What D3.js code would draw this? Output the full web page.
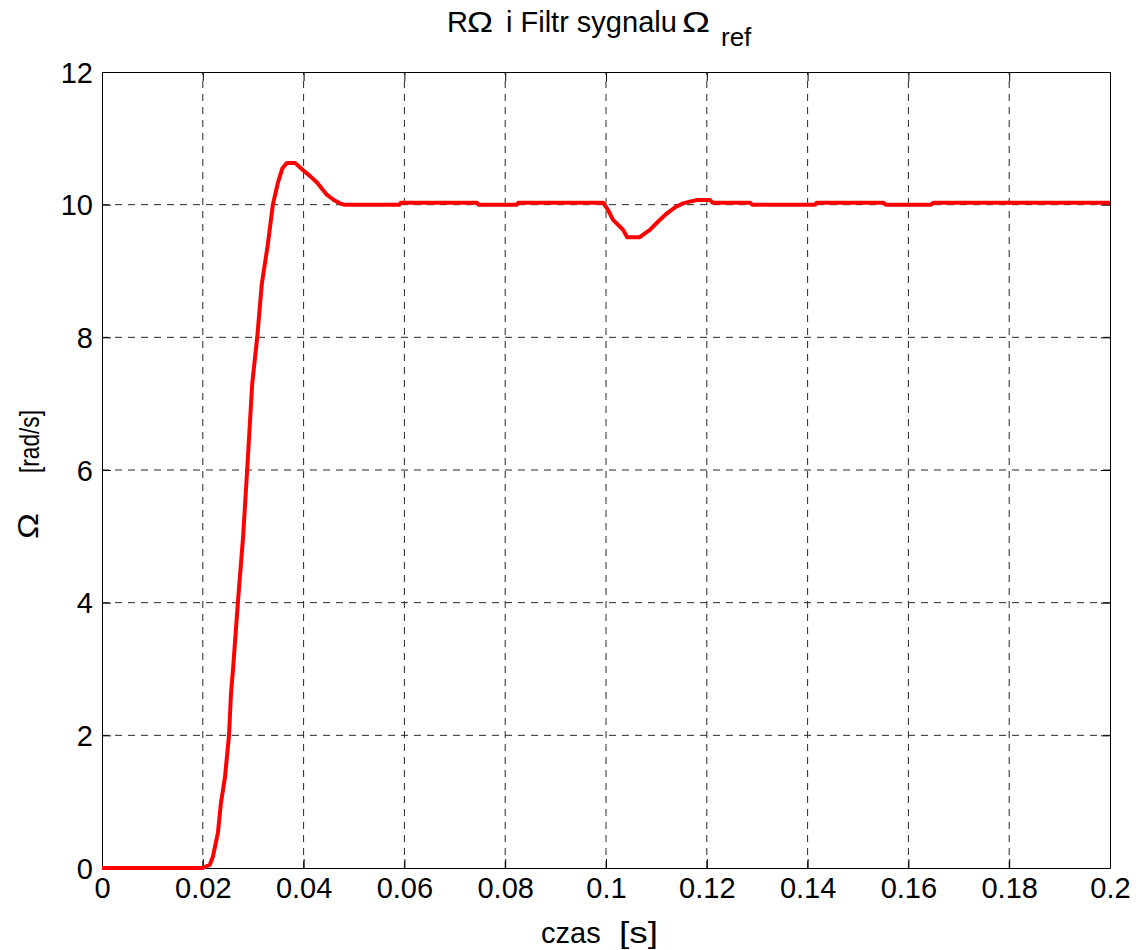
<!DOCTYPE html>
<html>
<head>
<meta charset="utf-8">
<script src="https://cdn.jsdelivr.net/npm/d3@7/dist/d3.min.js"></script>
<style>
  html, body { margin: 0; padding: 0; background: #fff; }
  svg { display: block; }
  text { font-family: "Liberation Sans", Arial, Helvetica, sans-serif; fill: #000; }
</style>
</head>
<body>
<svg id="chart" width="1136" height="950"></svg>
<script>
// Filtered speed reference response (time in s, angular speed in rad/s)
const timeS = [0, 0.02, 0.0214, 0.0220, 0.0230, 0.0236, 0.0244, 0.0252, 0.0256, 0.0260,
  0.0270, 0.0280, 0.0288, 0.0298, 0.0308, 0.0317, 0.0329, 0.0339, 0.0349, 0.0358,
  0.0367, 0.0383, 0.0399, 0.0413, 0.0427, 0.0446, 0.0460, 0.0472, 0.0480, 0.0590,
  0.0593, 0.0744, 0.0747, 0.0823, 0.0826, 0.0994, 0.1004, 0.1014, 0.1034, 0.1042,
  0.1067, 0.1087, 0.1104, 0.1121, 0.1137, 0.1153, 0.1168, 0.1181, 0.1206, 0.1212,
  0.1286, 0.1290, 0.1415, 0.1418, 0.1550, 0.1555, 0.1645, 0.1650, 0.2];
const omega = [0, 0, 0.05, 0.17, 0.53, 0.98, 1.37, 2.0, 2.64, 3.0,
  4.04, 5.0, 6.0, 7.3, 8.0, 8.8, 9.4, 10.0, 10.33, 10.55,
  10.63, 10.63, 10.52, 10.43, 10.33, 10.15, 10.07, 10.02, 10.0, 10.0,
  10.03, 10.03, 10.0, 10.0, 10.03, 10.03, 9.92, 9.77, 9.62, 9.51,
  9.51, 9.62, 9.75, 9.87, 9.96, 10.02, 10.05, 10.07, 10.07, 10.03,
  10.03, 10.0, 10.0, 10.03, 10.03, 10.0, 10.0, 10.03, 10.03];

const xTicks = [0, 0.02, 0.04, 0.06, 0.08, 0.1, 0.12, 0.14, 0.16, 0.18, 0.2];
const yTicks = [0, 2, 4, 6, 8, 10, 12];

const margin = { left: 102, top: 72, right: 26, bottom: 82 };
const W = 1136, H = 950;
const iw = W - margin.left - margin.right;
const ih = H - margin.top - margin.bottom;
const FS = 29;

const svg = d3.select("#chart");
const g = svg.append("g").attr("transform", `translate(${margin.left},${margin.top})`);

const x = d3.scaleLinear().domain([0, 0.2]).range([0, iw]);
const y = d3.scaleLinear().domain([0, 12]).range([ih, 0]);

// dashed grid
const gridStyle = sel => sel.attr("stroke", "#262626").attr("stroke-width", 1)
  .attr("stroke-dasharray", "7,6");
g.append("g").selectAll("line").data(xTicks.slice(1, -1)).join("line")
  .attr("x1", d => x(d)).attr("x2", d => x(d)).attr("y1", ih).attr("y2", 0)
  .call(gridStyle);
g.append("g").selectAll("line").data(yTicks.slice(1, -1)).join("line")
  .attr("y1", d => y(d)).attr("y2", d => y(d)).attr("x1", 0).attr("x2", iw)
  .call(gridStyle);

// axes box with inward ticks
const fmt = d => String(+d.toFixed(2));
const axB = g.append("g").attr("transform", `translate(0,${ih})`)
  .call(d3.axisBottom(x).tickValues(xTicks).tickFormat(fmt).tickSizeInner(-9).tickSizeOuter(0).tickPadding(9));
const axT = g.append("g")
  .call(d3.axisTop(x).tickValues(xTicks).tickFormat("").tickSizeInner(-9).tickSizeOuter(0));
const axL = g.append("g")
  .call(d3.axisLeft(y).tickValues(yTicks).tickFormat(d3.format("d")).tickSizeInner(-9).tickSizeOuter(0).tickPadding(9));
const axR = g.append("g").attr("transform", `translate(${iw},0)`)
  .call(d3.axisRight(y).tickValues(yTicks).tickFormat("").tickSizeInner(-9).tickSizeOuter(0));
[axB, axT, axL, axR].forEach(a => {
  a.selectAll(".domain").attr("stroke", "#000").attr("stroke-width", 1);
  a.selectAll(".tick line").attr("stroke", "#000").attr("stroke-width", 1);
  a.selectAll("text").attr("font-size", FS).attr("fill", "#000")
    .style("font-family", "'Liberation Sans', Arial, sans-serif");
});
axB.selectAll("text").attr("dy", "0.71em");
axL.selectAll("text").attr("dy", "0.35em");

// response curve
const line = d3.line().x((d, i) => x(timeS[i])).y(d => y(d));
g.append("path").datum(omega)
  .attr("d", line)
  .attr("fill", "none")
  .attr("stroke", "#ff0000")
  .attr("stroke-width", 4)
  .attr("stroke-linejoin", "round");

// title: R-Omega and filtered Omega_ref signal
const title = svg.append("text").attr("y", 32).attr("font-size", FS);
title.append("tspan").attr("x", 447).text("R");
title.append("tspan").attr("x", 467).attr("textLength", 26)
  .attr("lengthAdjust", "spacingAndGlyphs").text("Ω");
title.append("tspan").attr("x", 506).text("i Filtr sygnalu");
title.append("tspan").attr("x", 682).attr("textLength", 28)
  .attr("lengthAdjust", "spacingAndGlyphs").text("Ω");
title.append("tspan").attr("x", 721).attr("y", 46).attr("font-size", 26).text("ref");

// x axis label
const xl = svg.append("text").attr("y", 943).attr("font-size", FS);
xl.append("tspan").attr("x", 541).text("czas");
xl.append("tspan").attr("x", 619)
  .attr("textLength", 39).attr("lengthAdjust", "spacingAndGlyphs").text("[s]");

// y axis label (rotated)
svg.append("text")
  .attr("transform", "translate(38,539) rotate(-90)")
  .attr("font-size", 29).attr("textLength", 26).attr("lengthAdjust", "spacingAndGlyphs")
  .text("Ω");
svg.append("text")
  .attr("transform", "translate(39,473) rotate(-90)")
  .attr("font-size", 28).attr("textLength", 63).attr("lengthAdjust", "spacingAndGlyphs")
  .text("[rad/s]");
</script>
</body>
</html>
